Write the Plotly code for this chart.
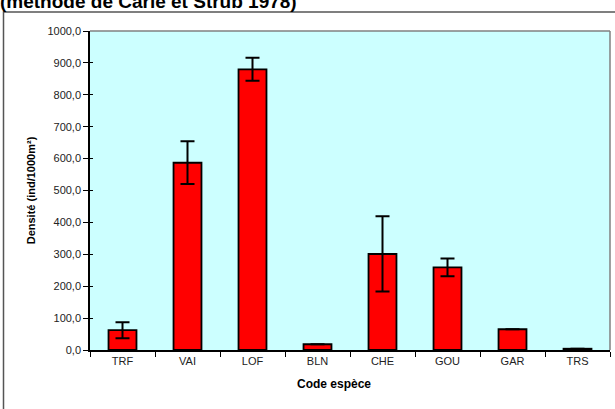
import plotly.graph_objects as go

species = ["TRF", "VAI", "LOF", "BLN", "CHE", "GOU", "GAR", "TRS"]
density = [62, 587, 880, 18, 301, 259, 65, 4]
error = [25, 67, 36, 0, 118, 28, 0, 0]
ytick_vals = [0, 100, 200, 300, 400, 500, 600, 700, 800, 900, 1000]
ytick_text = ["0,0", "100,0", "200,0", "300,0", "400,0", "500,0", "600,0",
              "700,0", "800,0", "900,0", "1000,0"]

W, H = 615, 409
ML, MR, MT, MB = 90, 5, 31, 59
pw = W - ML - MR
ph = H - MT - MB

def px_x(p):
    return (p - ML) / pw

def px_y(p):
    return (H - MB - p) / ph

fig = go.Figure()
fig.add_trace(go.Bar(
    x=species, y=density,
    marker=dict(color="#FF0000", line=dict(color="#000000", width=1.8)),
    error_y=dict(type="data", array=error, visible=True, color="#000000",
                 thickness=2, width=7),
    width=0.43,
))
# invisible trace to carry the inside ticks of the y axis
fig.add_trace(go.Scatter(x=species, y=density, yaxis="y2", mode="markers",
                         marker=dict(opacity=0), hoverinfo="skip",
                         showlegend=False))

font = "Arial, Liberation Sans, sans-serif"
fig.update_layout(
    width=W, height=H,
    margin=dict(l=ML, r=MR, t=MT, b=MB),
    paper_bgcolor="#FFFFFF",
    plot_bgcolor="#CCFFFF",
    showlegend=False,
    font=dict(family=font, size=11, color="#222222"),
    title=dict(text="<b>(méthode de Carle et Strub 1978)</b>",
               font=dict(family=font, size=19, color="#000000"),
               x=0.0, xanchor="left", xref="container",
               y=0.996, yanchor="middle", yref="container"),
    xaxis=dict(
        type="category", tickson="boundaries", ticks="outside", ticklen=5,
        tickwidth=1, tickcolor="#000000",
        showline=True, linecolor="#000000", linewidth=1.5,
        showgrid=False, zeroline=False,
        tickfont=dict(family=font, size=11, color="#222222"),
        range=[-0.5, 7.5],
    ),
    yaxis=dict(
        range=[0, 1000], tickvals=ytick_vals, ticktext=ytick_text,
        ticks="outside", ticklen=5, tickwidth=1, tickcolor="#000000",
        showline=True, linecolor="#000000", linewidth=1.5,
        showgrid=False, zeroline=False,
        tickfont=dict(family=font, size=11, color="#222222"),
        title=dict(text="<b>Densité (ind/1000m²)</b>",
                   font=dict(family=font, size=11, color="#000000"),
                   standoff=10),
    ),
    yaxis2=dict(
        range=[0, 1000], tickvals=ytick_vals, overlaying="y", side="left",
        ticks="inside", ticklen=3, tickwidth=1, tickcolor="#000000",
        showticklabels=False, showgrid=False, zeroline=False, showline=False,
    ),
    bargap=0.57,
)

fig.add_annotation(text="<b>Code espèce</b>", xref="paper", yref="paper",
                   x=px_x(334), y=px_y(384), xanchor="center", yanchor="middle",
                   showarrow=False, font=dict(family=font, size=12, color="#000000"))

# plot-area border on top and right
fig.add_shape(type="line", xref="paper", yref="paper", x0=0, x1=1, y0=1, y1=1,
              line=dict(color="#808080", width=1.5))
fig.add_shape(type="line", xref="paper", yref="paper", x0=1, x1=1, y0=0, y1=1,
              line=dict(color="#808080", width=1.5))
# outer chart border
fig.add_shape(type="rect", xref="paper", yref="paper",
              x0=px_x(3.5), x1=px_x(617), y0=px_y(411), y1=px_y(12),
              line=dict(color="#555555", width=1.5))

fig.write_html("out.html",
               config={"displayModeBar": False},
               post_script="document.body.style.margin='0';"
                           "document.body.style.overflow='hidden';")
